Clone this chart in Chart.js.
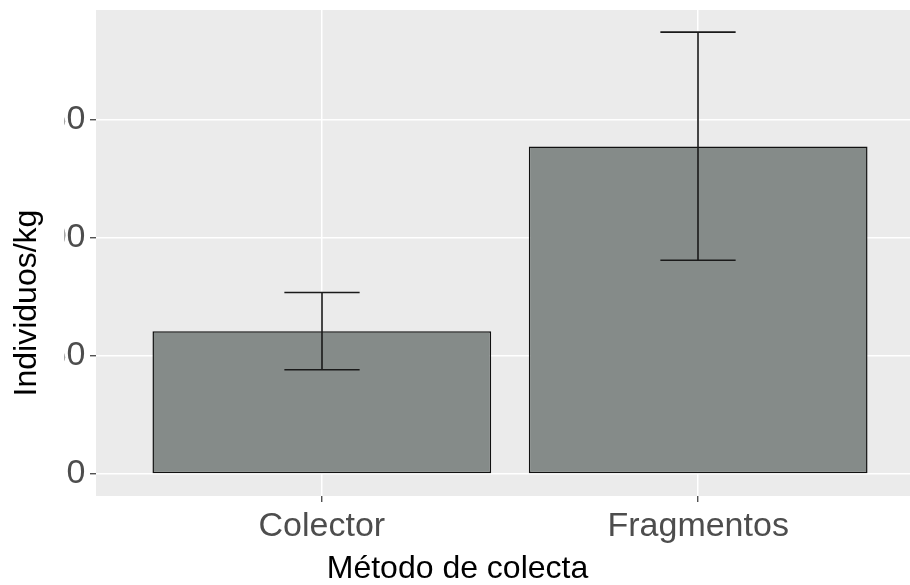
<!DOCTYPE html>
<html>
<head>
<meta charset="utf-8">
<script src="https://cdn.jsdelivr.net/npm/chart.js@4"></script>
<style>
  html, body { margin: 0; padding: 0; background: #fff; }
  #wrap { width: 910px; height: 585px; overflow: hidden; }
  canvas { display: block; }
</style>
</head>
<body>
<div id="wrap"><canvas id="chart" width="930" height="585"></canvas></div>
<script>
const categories = ['Colector', 'Fragmentos'];
const means = [60.4, 138.7];
const lowers = [44.1, 90.5];
const uppers = [76.8, 187.1];
const yTicks = [0, 50, 100, 150];
const xTitle = 'Método de colecta';
const yTitle = 'Individuos/kg';

const fontFamily = '"Liberation Sans", Arial, sans-serif';
const yTop = Math.max(...uppers);
const yPad = yTop * 0.05;

// grey panel behind the plot
const panelBg = {
  id: 'panelBg',
  beforeDraw(chart) {
    const { ctx, chartArea: a } = chart;
    ctx.save();
    ctx.fillStyle = '#ebebeb';
    ctx.fillRect(a.left, a.top, a.right - a.left, a.bottom - a.top);
    ctx.restore();
  }
};

// error bars drawn on top of the bars
const errorBars = {
  id: 'errorBars',
  afterDatasetsDraw(chart) {
    const { ctx } = chart;
    const xs = chart.scales.x;
    const ys = chart.scales.y;
    const half = (xs.getPixelForValue(2) - xs.getPixelForValue(1)) * 0.1;
    ctx.save();
    ctx.strokeStyle = '#1a1a1a';
    ctx.lineWidth = 1.6;
    categories.forEach((c, i) => {
      const x = Math.round(xs.getPixelForValue(i + 1));
      const lo = ys.getPixelForValue(lowers[i]);
      const hi = ys.getPixelForValue(uppers[i]);
      ctx.beginPath();
      ctx.moveTo(x, lo);
      ctx.lineTo(x, hi);
      ctx.moveTo(x - half, lo);
      ctx.lineTo(x + half, lo);
      ctx.moveTo(x - half, hi);
      ctx.lineTo(x + half, hi);
      ctx.stroke();
    });
    ctx.restore();
  }
};

// clipped tick labels + axis titles
const titles = {
  id: 'titles',
  afterDraw(chart) {
    const { ctx } = chart;
    ctx.save();
    ctx.fillStyle = '#ffffff';
    ctx.fillRect(0, 0, 64.5, 505);
    ctx.fillStyle = '#000000';
    ctx.font = '32px ' + fontFamily;
    ctx.textAlign = 'center';
    ctx.textBaseline = 'alphabetic';
    ctx.fillText(xTitle, 457.5, 578);
    ctx.translate(36, 303);
    ctx.rotate(-Math.PI / 2);
    ctx.fillText(yTitle, 0, 0);
    ctx.restore();
  }
};

const grid = {
  color: '#ffffff',
  lineWidth: 1.5,
  tickColor: '#333333',
  tickWidth: 1.2,
  tickLength: 6,
  offset: false,
};

new Chart(document.getElementById('chart'), {
  type: 'bar',
  data: {
    datasets: [
      {
        data: categories.map((c, i) => ({ x: i + 1, y: means[i] })),
        backgroundColor: '#858b89',
        borderColor: '#111111',
        borderWidth: 1.5,
        borderSkipped: false,
        categoryPercentage: 1,
        barPercentage: 0.9,
      },
    ],
  },
  options: {
    responsive: false,
    animation: false,
    layout: { padding: { top: 10, right: 6, left: 0, bottom: 0 } },
    plugins: {
      legend: { display: false },
      tooltip: { enabled: false },
    },
    scales: {
      x: {
        type: 'linear',
        min: 0.4,
        max: 2.6,
        offset: false,
        afterBuildTicks: (scale) => {
          scale.ticks = categories.map((c, i) => ({ value: i + 1 }));
        },
        afterFit: (scale) => {
          scale.height = 89;
          scale.paddingLeft = 0;
          scale.paddingRight = 0;
        },
        ticks: {
          callback: (v) => categories[v - 1],
          color: '#4d4d4d',
          font: { family: fontFamily, size: 34 },
          padding: 4,
          maxRotation: 0,
          autoSkip: false,
        },
        grid,
        border: { display: false },
      },
      y: {
        min: -yPad,
        max: yTop + yPad,
        afterBuildTicks: (scale) => {
          scale.ticks = yTicks.map((v) => ({ value: v }));
        },
        afterFit: (scale) => {
          scale.width = 96;
          scale.paddingTop = 0;
          scale.paddingBottom = 0;
        },
        ticks: {
          callback: (v) => String(v),
          color: '#4d4d4d',
          font: { family: fontFamily, size: 34 },
          padding: 4.5,
        },
        grid,
        border: { display: false },
      },
    },
  },
  plugins: [panelBg, errorBars, titles],
});
</script>
</body>
</html>
